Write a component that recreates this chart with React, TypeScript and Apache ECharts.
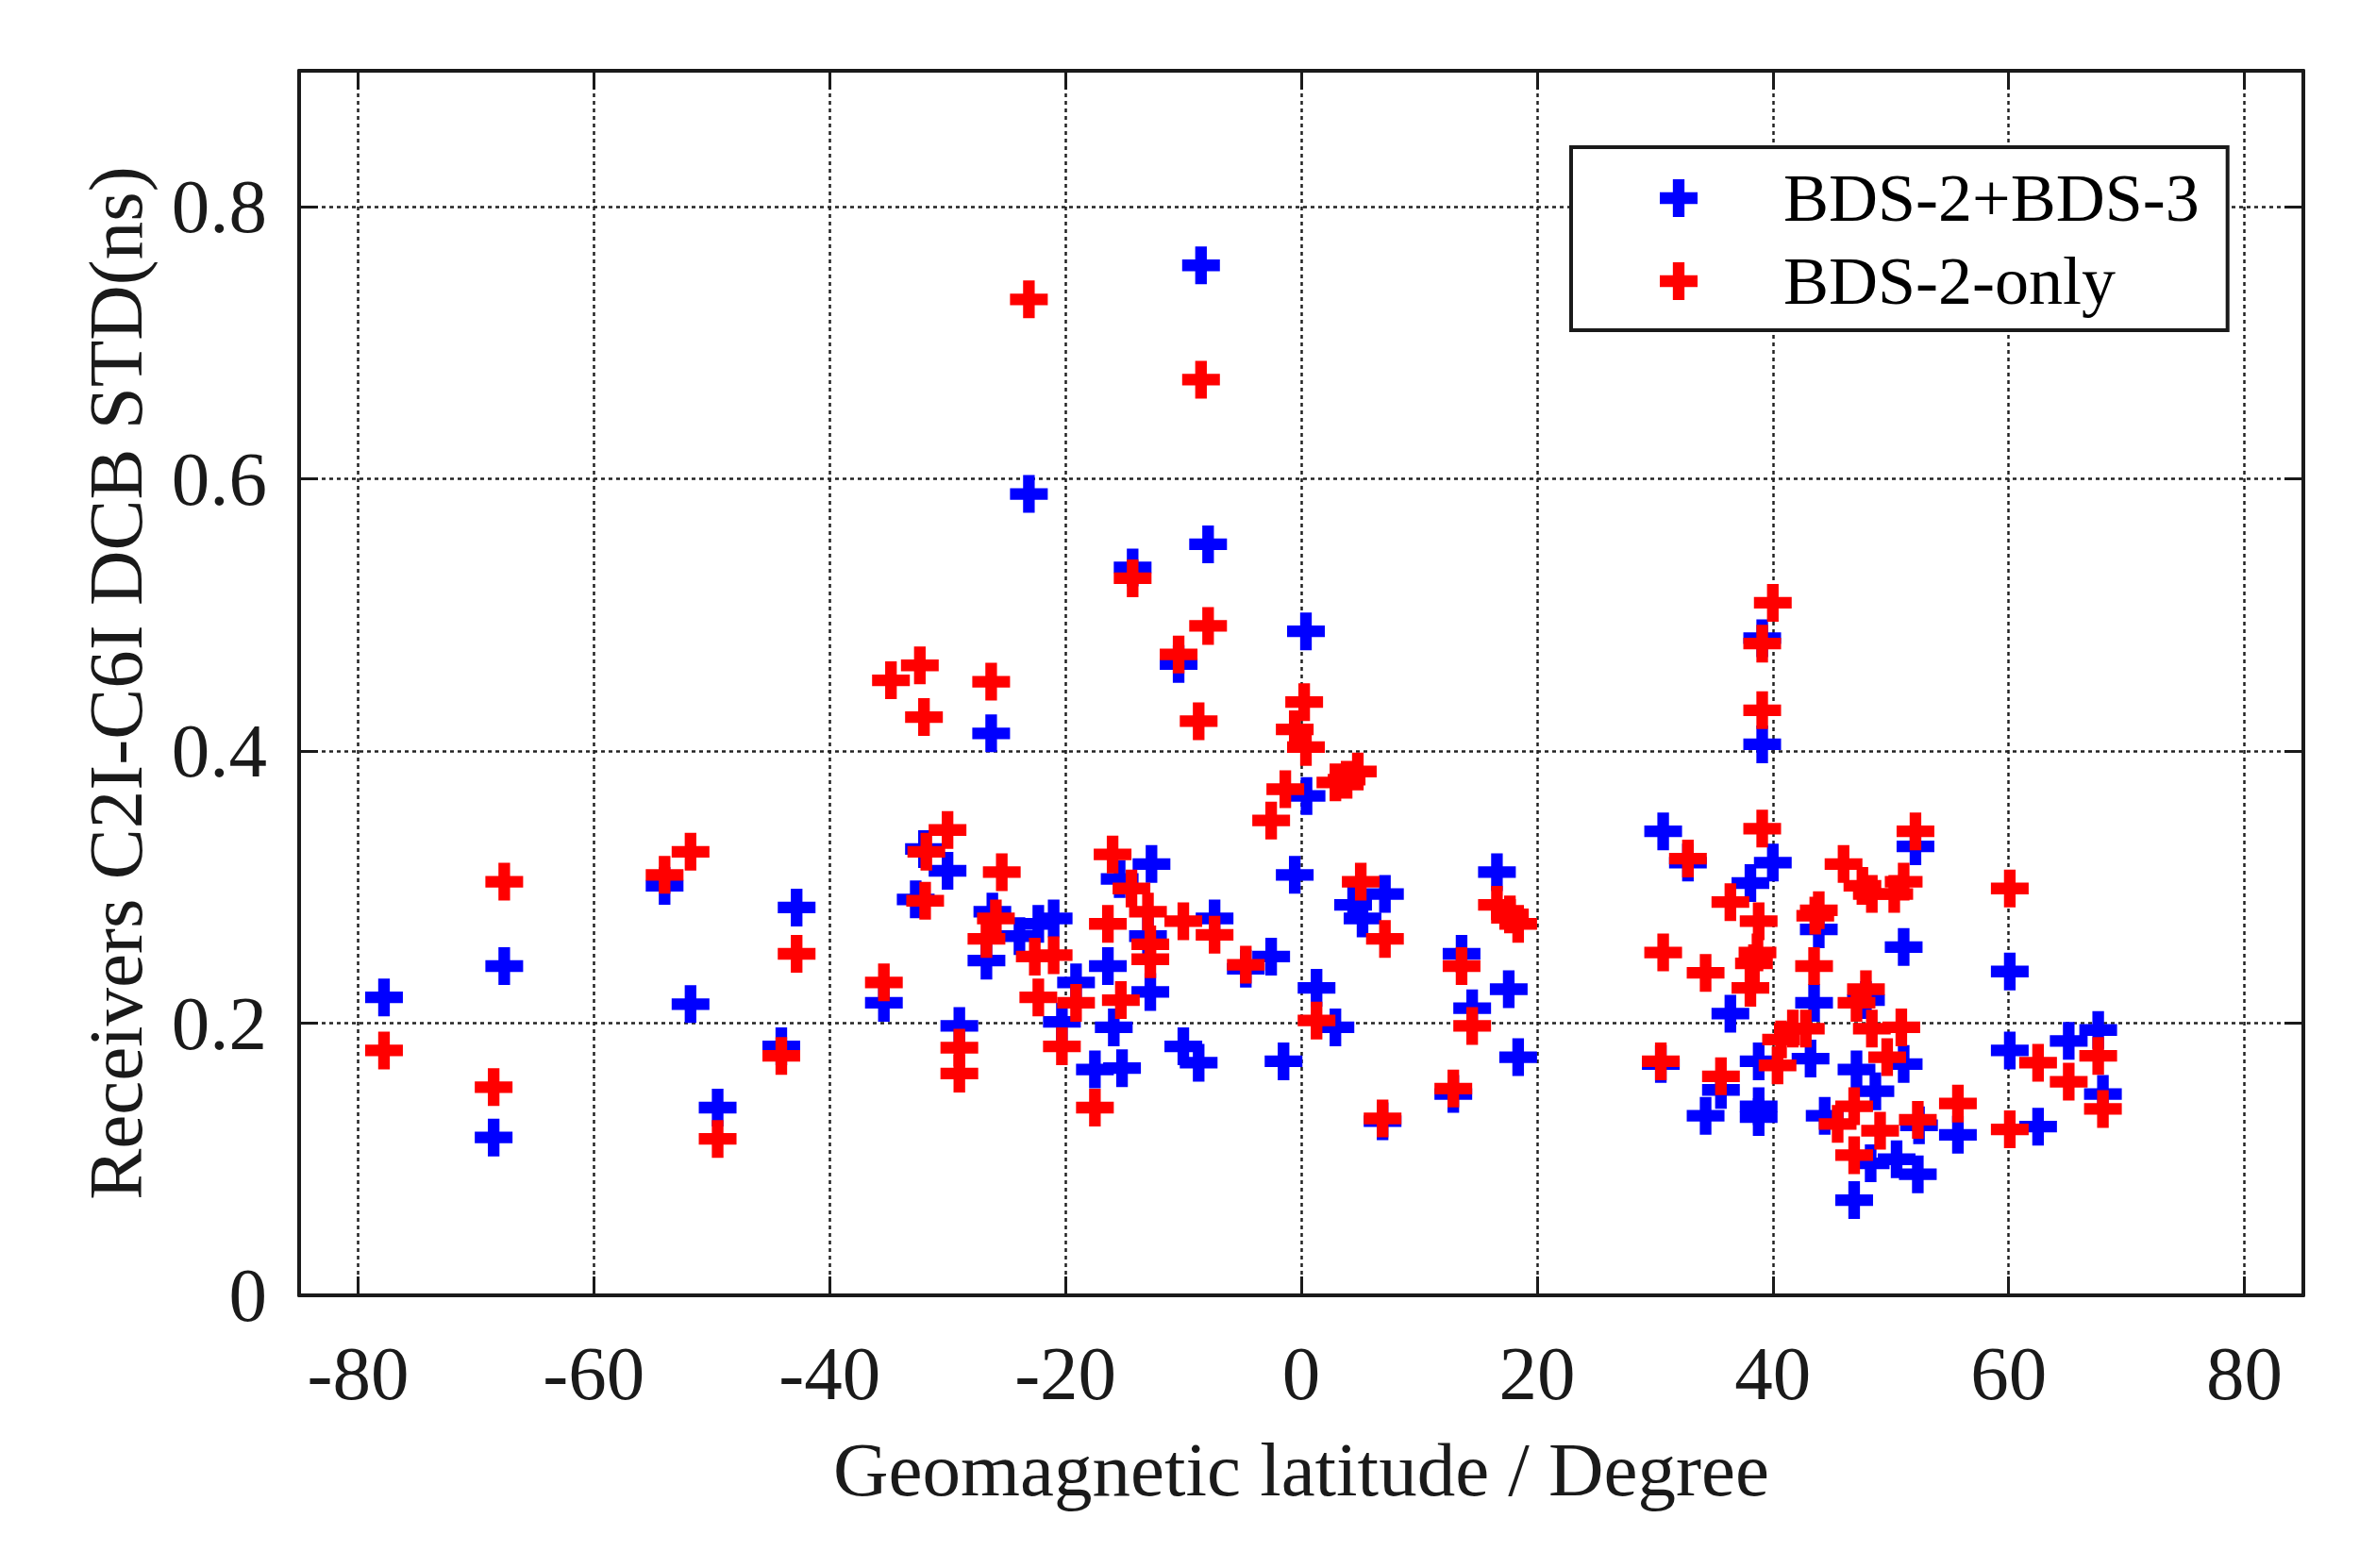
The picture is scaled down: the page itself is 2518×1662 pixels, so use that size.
import { useEffect, useRef } from "react";
import * as echarts from "echarts";

// Axis ticks
const xTicks = [-80, -60, -40, -20, 0, 20, 40, 60, 80];
const yTicks = [0, 0.2, 0.4, 0.6, 0.8];

const seriesNames = ["BDS-2+BDS-3", "BDS-2-only"];

// BDS-2+BDS-3 receivers: geomagnetic latitude (deg) and DCB STD (ns)
const bds23Lat = [
  -77.8, -68.5, -67.6, -54.0, -51.8, -49.5, -44.1, -42.8, -35.4, -32.0,
  -30.0, -32.7, -29.0, -26.3, -26.2, -26.7, -23.9, -23.1, -22.3, -21.0,
  -19.1, -20.3, -17.5, -16.4, -15.9, -15.4, -15.2, -14.3, -13.0, -12.8,
  -12.7, -10.4, -10.0, -8.7, -8.5, -7.9, -7.35, -4.7, -2.55, -1.5,
  -0.55, 0.4, 0.45, 1.3, 2.9, 4.4, 5.2, 7.1, 6.9, 12.9,
  13.6, 14.5, 16.6, 17.6, 18.4, 30.5, 30.7, 32.8, 34.3, 35.6,
  36.4, 38.1, 38.8, 38.8, 38.8, 39.1, 39.1, 40.0, 43.2, 43.5,
  43.9, 44.4, 46.9, 47.1, 47.9, 48.3, 48.7, 50.5, 51.1, 51.1,
  52.1, 52.3, 52.4, 55.7, 60.1, 60.1, 62.5, 65.1, 67.6, 68.0,
];
const bds23Std = [
  0.219, 0.116, 0.242, 0.301, 0.214, 0.138, 0.183, 0.285, 0.215, 0.328,
  0.312, 0.291, 0.198, 0.413, 0.282, 0.246, 0.264, 0.589, 0.273, 0.277,
  0.23, 0.201, 0.166, 0.242, 0.197, 0.306, 0.167, 0.535, 0.264, 0.223,
  0.317, 0.464, 0.183, 0.171, 0.757, 0.552, 0.277, 0.24, 0.249, 0.172,
  0.309, 0.488, 0.367, 0.226, 0.197, 0.287, 0.277, 0.295, 0.128, 0.148,
  0.251, 0.211, 0.311, 0.225, 0.175, 0.17, 0.341, 0.318, 0.132, 0.151,
  0.207, 0.303, 0.172, 0.139, 0.131, 0.405, 0.483, 0.318, 0.174, 0.215,
  0.269, 0.132, 0.07, 0.166, 0.217, 0.097, 0.15, 0.1, 0.256, 0.17,
  0.33, 0.089, 0.125, 0.118, 0.238, 0.18, 0.124, 0.187, 0.195, 0.148,
];

// BDS-2-only receivers
const bds2Lat = [
  -77.8, -68.5, -67.6, -54.0, -51.8, -49.5, -44.1, -42.8, -35.4, -34.8,
  -32.35, -32.0, -31.8, -31.9, -30.0, -29.0, -29.0, -26.3, -25.4, -25.9,
  -26.7, -23.1, -22.6, -22.3, -21.0, -20.3, -19.1, -17.5, -16.4, -16.0,
  -15.3, -14.4, -14.3, -13.0, -12.8, -12.8, -10.4, -10.0, -8.7, -8.5,
  -7.9, -7.35, -4.7, -2.55, -1.35, -0.55, 0.25, 0.4, 1.3, 2.9,
  3.85, 4.8, 5.05, 6.9, 7.1, 12.9, 13.6, 14.5, 16.6, 17.7,
  18.4, 30.5, 30.7, 32.8, 34.3, 35.6, 36.4, 38.1, 38.4, 38.7,
  38.8, 39.1, 39.1, 39.1, 40.0, 40.4, 40.7, 41.7, 42.8, 43.5,
  43.6, 43.9, 45.5, 46.0, 46.9, 46.9, 47.1, 47.6, 47.9, 48.4,
  48.4, 49.1, 49.7, 50.3, 50.9, 51.1, 52.1, 52.3, 55.7, 60.1,
  60.1, 62.5, 65.1, 67.6, 68.0,
];
const bds2Std = [
  0.18, 0.153, 0.304, 0.309, 0.326, 0.115, 0.176, 0.251, 0.23, 0.452,
  0.463, 0.425, 0.326, 0.29, 0.342, 0.182, 0.163, 0.451, 0.311, 0.277,
  0.262, 0.732, 0.249, 0.219, 0.25, 0.183, 0.215, 0.138, 0.273, 0.324,
  0.217, 0.299, 0.527, 0.282, 0.258, 0.247, 0.471, 0.275, 0.422, 0.673,
  0.492, 0.265, 0.243, 0.349, 0.372, 0.416, 0.436, 0.403, 0.202, 0.377,
  0.379, 0.385, 0.304, 0.13, 0.262, 0.152, 0.242, 0.198, 0.287, 0.28,
  0.273, 0.172, 0.252, 0.321, 0.237, 0.161, 0.289, 0.226, 0.244, 0.252,
  0.275, 0.343, 0.43, 0.479, 0.509, 0.169, 0.188, 0.196, 0.196, 0.242,
  0.279, 0.283, 0.126, 0.317, 0.139, 0.103, 0.215, 0.301, 0.225, 0.295,
  0.196, 0.121, 0.175, 0.295, 0.197, 0.304, 0.341, 0.129, 0.141, 0.299,
  0.122, 0.171, 0.157, 0.176, 0.137,
];

const FONT = "'Liberation Serif', 'Times New Roman', serif";
const PLUS = "path://M4.5,0H8.5V4.5H13V8.5H8.5V13H4.5V8.5H0V4.5H4.5Z";

function pairs(xs: number[], ys: number[]) {
  return xs.map((x, i) => [x, ys[i]]);
}

export default function App() {
  const ref = useRef<HTMLDivElement>(null);

  useEffect(() => {
    if (!ref.current) return;
    const chart = echarts.init(ref.current, undefined, { renderer: "svg" });

    const frameLine = { show: true, onZero: false, lineStyle: { color: "#1a1a1a", width: 4 } };
    const tick = { show: true, inside: true, length: 20, lineStyle: { color: "#1a1a1a", width: 3 } };
    const grid = { show: true, lineStyle: { color: "#222", width: 2.5, type: [4, 4] as number[] } };
    const label = { fontFamily: FONT, fontSize: 81, color: "#1a1a1a" };

    chart.setOption({
      animation: false,
      backgroundColor: "#fff",
      grid: { left: 317, right: 77, top: 75, bottom: 289, containLabel: false },
      xAxis: [
        {
          type: "value",
          min: -85,
          max: 85,
          position: "bottom",
          name: "Geomagnetic latitude / Degree",
          nameLocation: "middle",
          nameGap: 144,
          nameTextStyle: { ...label },
          axisLine: frameLine,
          axisTick: { ...tick, customValues: xTicks },
          axisLabel: { ...label, margin: 42, customValues: xTicks },
          splitLine: grid,
        },
        {
          type: "value",
          min: -85,
          max: 85,
          position: "top",
          axisLine: frameLine,
          axisTick: { ...tick, customValues: xTicks },
          axisLabel: { show: false },
          splitLine: { show: false },
        },
      ],
      yAxis: [
        {
          type: "value",
          min: 0,
          max: 0.9,
          position: "left",
          name: "Receivers C2I-C6I DCB STD(ns)",
          nameLocation: "middle",
          nameGap: 154,
          nameTextStyle: { ...label },
          axisLine: frameLine,
          axisTick: { ...tick, customValues: yTicks },
          axisLabel: { ...label, margin: 34, customValues: yTicks },
          splitLine: grid,
        },
        {
          type: "value",
          min: 0,
          max: 0.9,
          position: "right",
          axisLine: frameLine,
          axisTick: { ...tick, customValues: yTicks },
          axisLabel: { show: false },
          splitLine: { show: false },
        },
      ],
      legend: {
        orient: "vertical",
        left: 1665,
        top: 156,
        padding: [18, 30, 16, 94],
        itemWidth: 40,
        itemHeight: 40,
        itemGap: 16,
        borderColor: "#1a1a1a",
        borderWidth: 4,
        backgroundColor: "#fff",
        textStyle: { fontFamily: FONT, fontSize: 72, color: "#000", padding: [0, 0, 0, 86] },
        data: seriesNames.map((n) => ({ name: n, icon: PLUS })),
      },
      series: [
        {
          name: seriesNames[0],
          type: "scatter",
          symbol: PLUS,
          symbolSize: 40,
          itemStyle: { color: "#0000ff", opacity: 1 },
          data: pairs(bds23Lat, bds23Std),
        },
        {
          name: seriesNames[1],
          type: "scatter",
          symbol: PLUS,
          symbolSize: 40,
          itemStyle: { color: "#ff0000", opacity: 1 },
          data: pairs(bds2Lat, bds2Std),
        },
      ],
    });

    return () => chart.dispose();
  }, []);

  return (
    <div
      ref={ref}
      style={{ position: "absolute", left: 0, top: 0, width: 2518, height: 1662 }}
    />
  );
}
